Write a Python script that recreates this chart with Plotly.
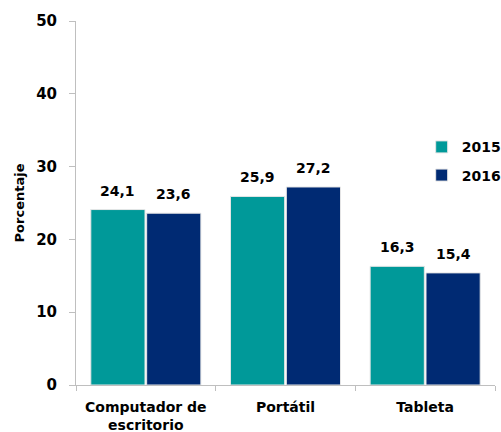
import plotly.graph_objects as go

categories = ["Computador de<br>escritorio", "Portátil", "Tableta"]
series_names = ["2015", "2016"]
values_2015 = [24.1, 25.9, 16.3]
values_2016 = [23.6, 27.2, 15.4]
y_ticks = [0, 10, 20, 30, 40, 50]

teal = "#009999"
navy = "#002A73"
font_family = "DejaVu Sans"
bargap = 0.2

fig = go.Figure()
series = [(series_names[0], values_2015, teal, "a"), (series_names[1], values_2016, navy, "b")]
for name, vals, color, grp in series:
    fig.add_trace(go.Bar(
        x=categories, y=vals, name=name, legendgroup=grp,
        marker=dict(color=color, line=dict(color="#E6E6E6", width=1)),
    ))

# value labels above each bar, centred on the bar's slot within its group
slot = (1 - bargap) / len(series)
for i, (name, vals, color, grp) in enumerate(series):
    for j, v in enumerate(vals):
        fig.add_annotation(
            x=j + (i - (len(series) - 1) / 2) * slot, y=v, xref="x", yref="y",
            text=f"{v:.1f}".replace(".", ","), showarrow=False,
            yanchor="bottom", yshift=9,
            font=dict(family=font_family, size=14, color="#000000", weight="bold"),
        )

fig.update_layout(
    width=501, height=432,
    margin=dict(l=76, r=6, t=21, b=47, autoexpand=False),
    paper_bgcolor="white", plot_bgcolor="white",
    separators=",.",
    barmode="group", bargap=bargap, bargroupgap=0.03,
    font=dict(family=font_family, size=14, color="#000000"),
    showlegend=True,
    legend=dict(x=0.825, y=0.697, xanchor="left", yanchor="top",
                font=dict(family=font_family, size=14, color="#000000", weight="bold"),
                tracegroupgap=7, itemwidth=30, bgcolor="rgba(0,0,0,0)"),
)
fig.update_xaxes(
    type="category", tickson="boundaries", ticks="outside", ticklen=5,
    tickcolor="#BFBFBF", showline=True, linecolor="#BFBFBF", linewidth=1,
    showgrid=False, tickangle=0, automargin=False, ticklabelstandoff=9,
    tickfont=dict(family=font_family, size=14, weight="bold"),
)
fig.update_yaxes(
    range=[0, 50], tickvals=y_ticks, ticks="outside", ticklen=6,
    tickcolor="#BFBFBF", showline=True, linecolor="#BFBFBF", linewidth=1,
    showgrid=False, zeroline=False, automargin=False, ticklabelstandoff=9,
    tickfont=dict(family=font_family, size=15, weight="bold"),
    title=dict(text="Porcentaje", font=dict(family=font_family, size=13, weight="bold"), standoff=8),
)

fig.write_html("out.html")
